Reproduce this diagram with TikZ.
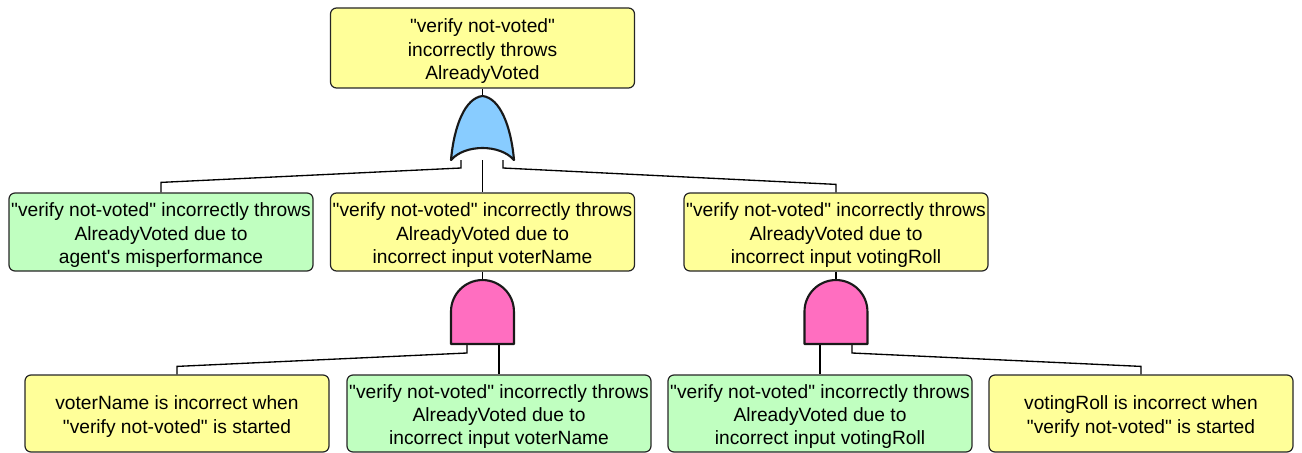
\documentclass[tikz,border=0pt]{standalone}
\usepackage{fontspec}
\setmainfont[Ligatures=TeXOff]{Liberation Sans}
\usetikzlibrary{calc}
\definecolor{fyellow}{HTML}{FFFF99}
\definecolor{fgreen}{HTML}{C0FFC0}
\definecolor{orblue}{HTML}{88CCFF}
\definecolor{andpink}{HTML}{FF6EC0}
\newcommand{\boxtext}[1]{\raisebox{-2.6pt}[\height][\depth]{\begin{tabular}{@{}c@{}}#1\end{tabular}}}
\tikzset{
  box/.style={draw=black!85, line width=0.9pt, rounded corners=4.5pt,
    minimum width=228pt, minimum height=58.5pt, inner sep=0pt, align=center,
    font=\fontsize{14.4}{17.5}\selectfont},
  ybox/.style={box, fill=fyellow},
  gbox/.style={box, fill=fgreen},
  wire/.style={line width=1pt, black},
  gate/.style={line width=1.6pt, draw=black!90, line join=round},
}
\begin{document}
\begin{tikzpicture}[x=0.75pt, y=-0.75pt]
\useasboundingbox (0,0) rectangle (1302,453);
% boxes
\node[ybox, minimum height=60pt] (T) at (482.5,48) {\boxtext{"verify not-voted"\\incorrectly throws\\AlreadyVoted}};
\node[gbox] (A) at (161,232) {\boxtext{"verify not-voted" incorrectly throws\\AlreadyVoted due to\\agent's misperformance}};
\node[ybox] (B) at (482.5,232) {\boxtext{"verify not-voted" incorrectly throws\\AlreadyVoted due to\\incorrect input voterName}};
\node[ybox] (C) at (836,232) {\boxtext{"verify not-voted" incorrectly throws\\AlreadyVoted due to\\incorrect input votingRoll}};
\node[ybox, minimum height=57.75pt] (D) at (177,413.5) {\boxtext{voterName is incorrect when\\"verify not-voted" is started}};
\node[gbox, minimum height=57.75pt] (E) at (499,413.5) {\boxtext{"verify not-voted" incorrectly throws\\AlreadyVoted due to\\incorrect input voterName}};
\node[gbox, minimum height=57.75pt] (F) at (820,413.5) {\boxtext{"verify not-voted" incorrectly throws\\AlreadyVoted due to\\incorrect input votingRoll}};
\node[ybox, minimum height=57.75pt] (G) at (1141,413.5) {\boxtext{votingRoll is incorrect when\\"verify not-voted" is started}};
% gate anchor coordinates
\coordinate (orTop) at (482.5,96);
\coordinate (orL) at (461,160);
\coordinate (orM) at (482.5,160);
\coordinate (orR) at (503,160);
\coordinate (and1Top) at (482.5,280);
\coordinate (and1L) at (467,344);
\coordinate (and1R) at (499,344);
\coordinate (and2Top) at (836,280);
\coordinate (and2L) at (820,344);
\coordinate (and2R) at (852,344);
% connectors
\draw[wire] (T.south) -- (orTop);
\draw[wire] (orM) -- (B.north);
\draw[wire] (orL) -- ++(0,8) -- ($(A.north)+(0,-10)$) -- (A.north);
\draw[wire] (orR) -- ++(0,8) -- ($(C.north)+(0,-8)$) -- (C.north);
\draw[wire] (B.south) -- (and1Top);
\draw[wire] (and1L) -- ++(0,9) -- ($(D.north)+(0,-8)$) -- (D.north);
\draw[wire] (and1R) -- (E.north);
\draw[wire] (C.south) -- (and2Top);
\draw[wire] (and2L) -- (F.north);
\draw[wire] (and2R) -- ++(0,9) -- ($(G.north)+(0,-8)$) -- (G.north);
% OR gate
\draw[gate, fill=orblue] (451,160) .. controls (454,126) and (465,98) .. (482.5,96)
  .. controls (500,98) and (511,126) .. (514,160)
  .. controls (500,144) and (465,144) .. (451,160) -- cycle;
% AND gates
\draw[gate, fill=andpink] (451,344) -- (451,311.5) arc[start angle=180, end angle=0, radius=23.6pt] -- (514,344) -- cycle;
\draw[gate, fill=andpink] (804.5,344) -- (804.5,311.5) arc[start angle=180, end angle=0, radius=23.6pt] -- (867.5,344) -- cycle;
\end{tikzpicture}
\end{document}
